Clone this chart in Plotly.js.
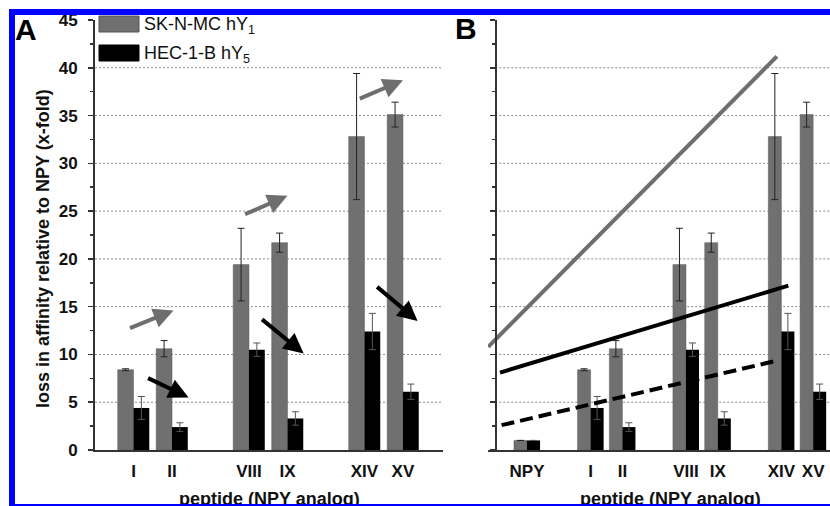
<!DOCTYPE html>
<html>
<head>
<meta charset="utf-8">
<script src="https://cdn.plot.ly/plotly-3.0.1.min.js"></script>
<style>
  html, body { margin: 0; padding: 0; background: #fff; }
  #wrap { position: relative; width: 830px; height: 506px; overflow: hidden; }
  #chart { width: 830px; height: 506px; }
  .bd { position: absolute; background: #0000ff; pointer-events: none; }
</style>
</head>
<body>
<div id="wrap">
  <div id="chart"></div>
  <div class="bd" style="left:9px;top:9px;width:6px;height:497px;"></div>
  <div class="bd" style="left:9px;top:9px;width:821px;height:6px;"></div>
  <div class="bd" style="left:9px;top:504px;width:821px;height:2px;"></div>
</div>
<script>
// ---------- data ----------
const seriesNames = ['SK-N-MC hY<sub>1</sub>', 'HEC-1-B hY<sub>5</sub>'];
const catsA = ['I', 'II', 'VIII', 'IX', 'XIV', 'XV'];
const posA = [1, 2, 4, 5, 7, 8];
const hY1 = [8.4, 10.6, 19.4, 21.7, 32.8, 35.1];
const hY1err = [0.1, 0.85, 3.8, 1.0, 6.6, 1.3];
const hY5 = [4.4, 2.4, 10.5, 3.3, 12.4, 6.1];
const hY5err = [1.2, 0.45, 0.7, 0.7, 1.9, 0.8];

const catsB = ['NPY', 'I', 'II', 'VIII', 'IX', 'XIV', 'XV'];
const posB = [1, 3, 4, 6, 7, 9, 10];
const hY1B = [1.0, 8.4, 10.6, 19.4, 21.7, 32.8, 35.1];
const hY1Berr = [null, 0.1, 0.85, 3.8, 1.0, 6.6, 1.3];
const hY5B = [1.0, 4.4, 2.4, 10.5, 3.3, 12.4, 6.1];
const hY5Berr = [null, 1.2, 0.45, 0.7, 0.7, 1.9, 0.8];

// trend lines in panel B
const trendY1x = [-0.22, 8.86];
const trendY1y = [10.8, 41.2];
const trendY5x = [0.15, 9.22];
const trendY5y = [8.1, 17.2];
const trendDashX = [0.2, 8.86];
const trendDashY = [2.6, 9.35];

// arrows in panel A: [tailX, tailY, headX, headY]
const arrowsUp = [[0.87, 12.7, 2.04, 14.6], [3.86, 24.6, 5.0, 26.6], [6.84, 36.7, 8.0, 38.7]];
const arrowsDown = [[1.34, 7.6, 2.43, 5.5], [4.3, 13.8, 5.42, 10.1], [7.29, 17.2, 8.38, 13.5]];

const yTicks = [0, 5, 10, 15, 20, 25, 30, 35, 40, 45];
const gridVals = [5, 10, 15, 20, 25, 30, 35, 40];

// ---------- styles ----------
const W = 830, H = 506;
const GRAY = '#707070';
const FONT = 'Liberation Sans, Arial, sans-serif';
const px = v => v / W;
const py = v => 1 - v / H;
const xRangeA = [0, 9.04];
const xRangeB = [-0.227, 10.53];

function errBar(arr, color) {
  return { type: 'data', array: arr, visible: true, color: color, thickness: 1, width: 3.5 };
}

const traces = [
  { type: 'bar', x: posA, y: hY1, name: seriesNames[0], xaxis: 'x', yaxis: 'y',
    marker: { color: GRAY, line: { color: '#5a5a5a', width: 0.5 } }, error_y: errBar(hY1err, '#222') },
  { type: 'bar', x: posA, y: hY5, name: seriesNames[1], xaxis: 'x', yaxis: 'y',
    marker: { color: '#000' }, error_y: errBar(hY5err, '#555') },
  { type: 'bar', x: posB, y: hY1B, name: seriesNames[0], xaxis: 'x2', yaxis: 'y2',
    marker: { color: GRAY, line: { color: '#5a5a5a', width: 0.5 } }, error_y: errBar(hY1Berr, '#222') },
  { type: 'bar', x: posB, y: hY5B, name: seriesNames[1], xaxis: 'x2', yaxis: 'y2',
    marker: { color: '#000' }, error_y: errBar(hY5Berr, '#555') },
  { type: 'scatter', mode: 'lines', x: trendY1x, y: trendY1y, xaxis: 'x2', yaxis: 'y2',
    line: { color: '#6e6e6e', width: 4 } },
  { type: 'scatter', mode: 'lines', x: trendY5x, y: trendY5y, xaxis: 'x2', yaxis: 'y2',
    line: { color: '#000', width: 4 } },
  { type: 'scatter', mode: 'lines', x: trendDashX, y: trendDashY, xaxis: 'x2', yaxis: 'y2',
    line: { color: '#000', width: 4, dash: '13px,6px' } }
];

const tickFont = { family: FONT, size: 17, color: '#111', weight: 'bold' };

const yCommon = {
  range: [0, 45], tickvals: yTicks, ticks: 'outside', ticklen: 5, tickwidth: 1.5, tickcolor: '#333',
  minor: { dtick: 2.5, tick0: 0, ticks: 'outside', ticklen: 3, tickwidth: 1.5, tickcolor: '#333', showgrid: false },
  showline: true, linewidth: 2, linecolor: '#333', showgrid: false, zeroline: false,
  tickfont: tickFont, domain: [py(450), py(20)], fixedrange: true
};

const shapes = [];
gridVals.forEach(v => {
  shapes.push({ type: 'line', layer: 'below', xref: 'x domain', yref: 'y', x0: 0, x1: 1, y0: v, y1: v,
    line: { color: '#8a8a8a', width: 1, dash: '2px,2px' } });
  shapes.push({ type: 'line', layer: 'below', xref: 'x2', yref: 'y2', x0: 0, x1: xRangeB[1], y0: v, y1: v,
    line: { color: '#8a8a8a', width: 1, dash: '2px,2px' } });
});
// legend swatches
shapes.push({ type: 'rect', xref: 'paper', yref: 'paper', x0: px(99), x1: px(139), y0: py(32), y1: py(16),
  fillcolor: GRAY, line: { color: '#555', width: 1 } });
shapes.push({ type: 'rect', xref: 'paper', yref: 'paper', x0: px(99), x1: px(139), y0: py(61), y1: py(45),
  fillcolor: '#000', line: { color: '#000', width: 1 } });

const annotations = [];
arrowsUp.forEach(a => annotations.push({ xref: 'x', yref: 'y', axref: 'x', ayref: 'y',
  ax: a[0], ay: a[1], x: a[2], y: a[3], text: '', showarrow: true,
  arrowhead: 2, arrowsize: 1, arrowwidth: 4, arrowcolor: '#6e6e6e', standoff: 0 }));
arrowsDown.forEach(a => annotations.push({ xref: 'x', yref: 'y', axref: 'x', ayref: 'y',
  ax: a[0], ay: a[1], x: a[2], y: a[3], text: '', showarrow: true,
  arrowhead: 2, arrowsize: 1, arrowwidth: 4, arrowcolor: '#000', standoff: 0 }));

const legFont = { family: FONT, size: 18, color: '#111' };
annotations.push({ xref: 'paper', yref: 'paper', x: px(142), y: py(25), xanchor: 'left', yanchor: 'middle',
  text: seriesNames[0], showarrow: false, font: legFont });
annotations.push({ xref: 'paper', yref: 'paper', x: px(142), y: py(54), xanchor: 'left', yanchor: 'middle',
  text: seriesNames[1], showarrow: false, font: legFont });

const panelFont = { family: FONT, size: 30, color: '#000', weight: 'bold' };
annotations.push({ xref: 'paper', yref: 'paper', x: px(26), y: py(29), xanchor: 'center', yanchor: 'middle',
  text: 'A', showarrow: false, font: panelFont });
annotations.push({ xref: 'paper', yref: 'paper', x: px(466), y: py(28), xanchor: 'center', yanchor: 'middle',
  text: 'B', showarrow: false, font: panelFont });

const titleFont = { family: FONT, size: 18, color: '#111', weight: 'bold' };
annotations.push({ xref: 'paper', yref: 'paper', x: px(43), y: py(249), xanchor: 'center', yanchor: 'middle',
  textangle: -90, text: 'loss in affinity relative to NPY (x-fold)', showarrow: false, font: titleFont });
annotations.push({ xref: 'paper', yref: 'paper', x: px(269), y: py(499), xanchor: 'center', yanchor: 'middle',
  text: 'peptide (NPY analog)', showarrow: false, font: titleFont });
annotations.push({ xref: 'paper', yref: 'paper', x: px(670), y: py(499), xanchor: 'center', yanchor: 'middle',
  text: 'peptide (NPY analog)', showarrow: false, font: titleFont });

const layout = {
  width: W, height: H,
  margin: { l: 0, r: 0, t: 0, b: 0, pad: 0 },
  paper_bgcolor: '#fff', plot_bgcolor: 'rgba(0,0,0,0)',
  showlegend: false,
  barmode: 'group', bargap: 0.18, bargroupgap: 0,
  font: { family: FONT, color: '#111' },
  xaxis: {
    domain: [px(95), px(443)], range: xRangeA, anchor: 'y',
    tickvals: posA, ticktext: catsA, ticks: '', ticklabelstandoff: 5,
    showline: true, linewidth: 2, linecolor: '#333', showgrid: false, zeroline: false,
    tickfont: tickFont, fixedrange: true
  },
  yaxis: Object.assign({}, yCommon, { anchor: 'x', ticklabelstandoff: 7 }),
  xaxis2: {
    domain: [px(488), 1], range: xRangeB, anchor: 'y2',
    tickvals: posB, ticktext: catsB, ticks: '', ticklabelstandoff: 5,
    showline: true, linewidth: 2, linecolor: '#333', showgrid: false, zeroline: false,
    tickfont: tickFont, fixedrange: true
  },
  yaxis2: Object.assign({}, yCommon, { anchor: 'free', position: px(495.5), showticklabels: false }),
  shapes: shapes,
  annotations: annotations
};

Plotly.newPlot('chart', traces, layout, { displayModeBar: false, staticPlot: true });
</script>
</body>
</html>
